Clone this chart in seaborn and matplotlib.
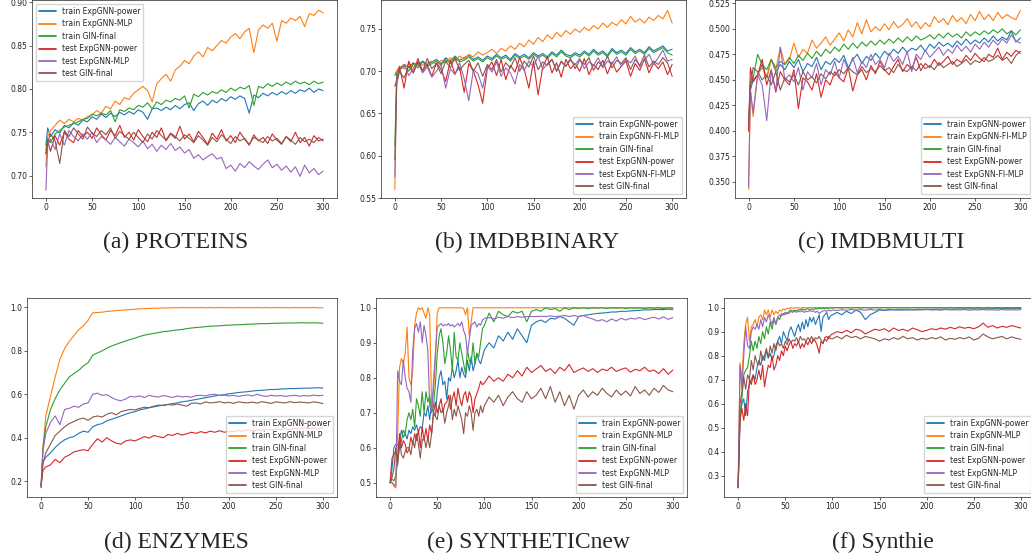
import matplotlib
matplotlib.use("Agg")
import matplotlib.pyplot as plt
import seaborn as sns

sns.set_style("ticks")
plt.rcParams["font.family"] = ["DejaVu Sans"]

# ---------------- epochs ----------------
EP_A = [0, 2] + list(range(5, 301, 5))
EP_E = list(range(0, 100, 2)) + list(range(100, 301, 5))

# ---------------- (a) PROTEINS ----------------
a_train_power = [0.735, 0.755, 0.745, 0.753, 0.749, 0.758, 0.755, 0.761, 0.758, 0.764,
                 0.762, 0.768, 0.765, 0.771, 0.767, 0.772, 0.768, 0.773, 0.770, 0.774,
                 0.771, 0.776, 0.773, 0.765, 0.777, 0.778, 0.775, 0.779, 0.776, 0.781,
                 0.777, 0.782, 0.784, 0.775, 0.783, 0.786, 0.781, 0.787, 0.784, 0.789,
                 0.786, 0.791, 0.788, 0.792, 0.789, 0.772, 0.793, 0.790, 0.795, 0.792,
                 0.796, 0.793, 0.797, 0.794, 0.798, 0.795, 0.799, 0.797, 0.801, 0.796,
                 0.800, 0.798]
a_train_mlp = [0.710, 0.745, 0.752, 0.758, 0.764, 0.760, 0.765, 0.762, 0.766, 0.764,
               0.768, 0.770, 0.775, 0.772, 0.780, 0.777, 0.786, 0.782, 0.790, 0.788,
               0.795, 0.799, 0.803, 0.798, 0.785, 0.806, 0.812, 0.817, 0.809, 0.822,
               0.826, 0.833, 0.829, 0.838, 0.843, 0.837, 0.848, 0.844, 0.850, 0.856,
               0.853, 0.860, 0.864, 0.858, 0.866, 0.870, 0.842, 0.868, 0.874, 0.870,
               0.876, 0.855, 0.879, 0.876, 0.882, 0.879, 0.884, 0.872, 0.887, 0.885,
               0.891, 0.888]
a_train_gin = [0.730, 0.742, 0.738, 0.748, 0.752, 0.756, 0.758, 0.760, 0.762, 0.765,
               0.766, 0.771, 0.769, 0.772, 0.770, 0.775, 0.762, 0.776, 0.774, 0.778,
               0.776, 0.781, 0.779, 0.784, 0.777, 0.785, 0.782, 0.787, 0.785, 0.789,
               0.787, 0.792, 0.778, 0.794, 0.791, 0.796, 0.793, 0.797, 0.795, 0.799,
               0.796, 0.801, 0.798, 0.802, 0.800, 0.804, 0.781, 0.803, 0.801, 0.806,
               0.803, 0.807, 0.804, 0.808, 0.805, 0.809, 0.806, 0.808, 0.805, 0.809,
               0.806, 0.808]
a_test_power = [0.725, 0.740, 0.728, 0.746, 0.735, 0.750, 0.742, 0.738, 0.752, 0.745,
                0.750, 0.743, 0.755, 0.747, 0.741, 0.752, 0.746, 0.758, 0.744, 0.750,
                0.741, 0.753, 0.745, 0.739, 0.750, 0.744, 0.755, 0.740, 0.748, 0.743,
                0.757, 0.742, 0.748, 0.739, 0.751, 0.744, 0.736, 0.749, 0.742, 0.753,
                0.740, 0.746, 0.738, 0.750, 0.742, 0.735, 0.747, 0.740, 0.744, 0.737,
                0.748, 0.741, 0.736, 0.745, 0.739, 0.750, 0.738, 0.744, 0.734, 0.746,
                0.740, 0.742]
a_test_mlp = [0.683, 0.735, 0.742, 0.730, 0.748, 0.735, 0.752, 0.745, 0.740, 0.748,
              0.742, 0.750, 0.738, 0.745, 0.741, 0.736, 0.744, 0.739, 0.734, 0.742,
              0.738, 0.733, 0.740, 0.731, 0.736, 0.728, 0.735, 0.730, 0.737, 0.729,
              0.733, 0.726, 0.730, 0.720, 0.724, 0.718, 0.722, 0.725, 0.719, 0.721,
              0.708, 0.712, 0.705, 0.714, 0.709, 0.716, 0.711, 0.707, 0.713, 0.718,
              0.709, 0.713, 0.706, 0.711, 0.704, 0.710, 0.699, 0.712, 0.703, 0.708,
              0.701, 0.705]
a_test_gin = [0.725, 0.738, 0.748, 0.740, 0.714, 0.752, 0.745, 0.755, 0.748, 0.742,
              0.756, 0.749, 0.745, 0.752, 0.747, 0.755, 0.743, 0.751, 0.746, 0.742,
              0.750, 0.744, 0.738, 0.748, 0.742, 0.752, 0.746, 0.741, 0.749, 0.745,
              0.740, 0.747, 0.743, 0.738, 0.746, 0.741, 0.735, 0.744, 0.739, 0.747,
              0.742, 0.737, 0.745, 0.740, 0.743, 0.736, 0.744, 0.741, 0.738, 0.745,
              0.740, 0.743, 0.737, 0.745, 0.741, 0.736, 0.744, 0.739, 0.742, 0.738,
              0.744, 0.740]

# ---------------- (b) IMDBBINARY ----------------
b_train_power = [0.695, 0.700, 0.703, 0.708, 0.705, 0.710, 0.707, 0.712, 0.708, 0.711,
                 0.714, 0.709, 0.716, 0.712, 0.718, 0.713, 0.716, 0.719, 0.714, 0.717,
                 0.713, 0.718, 0.715, 0.720, 0.716, 0.719, 0.714, 0.721, 0.717, 0.720,
                 0.716, 0.722, 0.718, 0.721, 0.717, 0.723, 0.719, 0.725, 0.720, 0.718,
                 0.722, 0.719, 0.724, 0.720, 0.726, 0.721, 0.724, 0.719, 0.727, 0.722,
                 0.725, 0.721, 0.728, 0.723, 0.726, 0.722, 0.729, 0.724, 0.727, 0.730,
                 0.724, 0.726]
b_train_mlp = [0.560, 0.700, 0.706, 0.703, 0.709, 0.705, 0.711, 0.707, 0.710, 0.712,
               0.708, 0.713, 0.710, 0.716, 0.712, 0.718, 0.714, 0.720, 0.717, 0.723,
               0.719, 0.722, 0.726, 0.721, 0.727, 0.724, 0.730, 0.726, 0.733, 0.729,
               0.737, 0.732, 0.740, 0.735, 0.743, 0.738, 0.746, 0.741, 0.748, 0.744,
               0.750, 0.746, 0.752, 0.748, 0.754, 0.750, 0.757, 0.752, 0.758, 0.754,
               0.761, 0.756, 0.765, 0.758, 0.762, 0.757, 0.764, 0.760, 0.766, 0.762,
               0.772, 0.757]
b_train_gin = [0.612, 0.698, 0.702, 0.706, 0.700, 0.709, 0.704, 0.711, 0.706, 0.709,
               0.712, 0.707, 0.714, 0.709, 0.716, 0.711, 0.713, 0.717, 0.712, 0.715,
               0.711, 0.716, 0.713, 0.718, 0.714, 0.717, 0.712, 0.719, 0.715, 0.718,
               0.714, 0.720, 0.716, 0.719, 0.715, 0.721, 0.717, 0.723, 0.718, 0.716,
               0.720, 0.717, 0.722, 0.718, 0.724, 0.719, 0.722, 0.717, 0.725, 0.720,
               0.723, 0.719, 0.726, 0.721, 0.724, 0.720, 0.727, 0.722, 0.725, 0.728,
               0.722, 0.719]
b_test_power = [0.682, 0.690, 0.705, 0.680, 0.712, 0.698, 0.715, 0.700, 0.708, 0.694,
                0.710, 0.702, 0.688, 0.713, 0.697, 0.705, 0.675, 0.709, 0.700, 0.684,
                0.662, 0.703, 0.711, 0.695, 0.714, 0.690, 0.707, 0.699, 0.716, 0.702,
                0.680, 0.712, 0.672, 0.705, 0.717, 0.698, 0.710, 0.693, 0.714, 0.703,
                0.709, 0.700, 0.715, 0.696, 0.708, 0.702, 0.713, 0.697, 0.711, 0.699,
                0.706, 0.712, 0.694, 0.709, 0.701, 0.715, 0.698, 0.710, 0.703, 0.711,
                0.696, 0.708]
b_test_mlp = [0.575, 0.690, 0.700, 0.708, 0.695, 0.703, 0.710, 0.698, 0.705, 0.693,
              0.700, 0.708, 0.680, 0.703, 0.696, 0.710, 0.691, 0.665, 0.702, 0.697,
              0.680, 0.706, 0.699, 0.711, 0.694, 0.704, 0.698, 0.685, 0.708, 0.701,
              0.712, 0.705, 0.718, 0.702, 0.709, 0.714, 0.700, 0.711, 0.706, 0.713,
              0.708, 0.715, 0.703, 0.711, 0.707, 0.716, 0.704, 0.712, 0.709, 0.717,
              0.706, 0.714, 0.710, 0.718, 0.705, 0.713, 0.720, 0.708, 0.716, 0.725,
              0.712, 0.714]
b_test_gin = [0.595, 0.685, 0.700, 0.692, 0.706, 0.698, 0.711, 0.700, 0.715, 0.703,
              0.709, 0.697, 0.712, 0.704, 0.716, 0.701, 0.708, 0.713, 0.700, 0.710,
              0.694, 0.708, 0.702, 0.714, 0.699, 0.710, 0.704, 0.716, 0.700, 0.712,
              0.705, 0.718, 0.702, 0.711, 0.707, 0.714, 0.700, 0.712, 0.706, 0.715,
              0.703, 0.713, 0.708, 0.716, 0.701, 0.711, 0.706, 0.718, 0.704, 0.713,
              0.709, 0.716, 0.702, 0.714, 0.707, 0.719, 0.705, 0.712, 0.708, 0.716,
              0.710, 0.694]

# ---------------- (c) IMDBMULTI ----------------
c_train_power = [0.400, 0.440, 0.450, 0.455, 0.465, 0.452, 0.470, 0.458, 0.465, 0.460,
                 0.468, 0.462, 0.470, 0.458, 0.466, 0.463, 0.472, 0.460, 0.468, 0.465,
                 0.471, 0.467, 0.474, 0.462, 0.470, 0.475, 0.466, 0.473, 0.469, 0.476,
                 0.471, 0.478, 0.474, 0.480, 0.476, 0.482, 0.477, 0.481, 0.479, 0.484,
                 0.478, 0.485, 0.481, 0.487, 0.483, 0.486, 0.482, 0.488, 0.484, 0.490,
                 0.485, 0.489, 0.486, 0.491, 0.487, 0.493, 0.488, 0.492, 0.489, 0.498,
                 0.487, 0.491]
c_train_mlp = [0.343, 0.440, 0.414, 0.455, 0.462, 0.452, 0.470, 0.460, 0.482, 0.465,
               0.470, 0.486, 0.472, 0.480, 0.476, 0.489, 0.481, 0.486, 0.492, 0.484,
               0.490, 0.496, 0.488, 0.499, 0.492, 0.506, 0.495, 0.509, 0.497, 0.502,
               0.498, 0.505, 0.499, 0.507, 0.501, 0.504, 0.510, 0.502, 0.507, 0.500,
               0.506, 0.502, 0.512, 0.506, 0.510, 0.504, 0.513, 0.507, 0.511, 0.505,
               0.514, 0.508, 0.517, 0.509, 0.514, 0.508, 0.516, 0.510, 0.514, 0.511,
               0.509, 0.518]
c_train_gin = [0.400, 0.445, 0.452, 0.475, 0.465, 0.460, 0.470, 0.462, 0.468, 0.465,
               0.472, 0.466, 0.474, 0.469, 0.476, 0.471, 0.478, 0.473, 0.480, 0.476,
               0.482, 0.478, 0.485, 0.480, 0.486, 0.481, 0.487, 0.483, 0.488, 0.484,
               0.489, 0.485, 0.490, 0.486, 0.491, 0.487, 0.492, 0.488, 0.493, 0.489,
               0.491, 0.494, 0.490, 0.495, 0.491, 0.496, 0.492, 0.495, 0.491, 0.497,
               0.493, 0.497, 0.494, 0.498, 0.495, 0.499, 0.496, 0.500, 0.495, 0.498,
               0.494, 0.499]
c_test_power = [0.400, 0.462, 0.448, 0.455, 0.470, 0.445, 0.460, 0.438, 0.458, 0.450,
                0.445, 0.460, 0.422, 0.452, 0.448, 0.440, 0.456, 0.433, 0.450, 0.445,
                0.458, 0.452, 0.448, 0.462, 0.439, 0.455, 0.460, 0.450, 0.464, 0.456,
                0.468, 0.460, 0.455, 0.463, 0.470, 0.458, 0.465, 0.461, 0.472, 0.459,
                0.466, 0.462, 0.470, 0.464, 0.468, 0.473, 0.465, 0.470, 0.467, 0.474,
                0.469, 0.476, 0.471, 0.468, 0.475, 0.472, 0.481, 0.470, 0.477, 0.473,
                0.479, 0.476]
c_test_mlp = [0.345, 0.440, 0.418, 0.455, 0.445, 0.410, 0.458, 0.440, 0.482, 0.450,
              0.455, 0.448, 0.462, 0.440, 0.458, 0.452, 0.466, 0.445, 0.460, 0.455,
              0.468, 0.452, 0.470, 0.460, 0.472, 0.457, 0.468, 0.462, 0.475, 0.465,
              0.470, 0.462, 0.476, 0.468, 0.473, 0.465, 0.478, 0.458, 0.475, 0.470,
              0.479, 0.472, 0.477, 0.482, 0.474, 0.480, 0.476, 0.484, 0.478, 0.483,
              0.477, 0.485, 0.480, 0.487, 0.482, 0.489, 0.484, 0.490, 0.486, 0.494,
              0.488, 0.486]
c_test_gin = [0.410, 0.445, 0.462, 0.458, 0.450, 0.455, 0.445, 0.458, 0.440, 0.452,
              0.448, 0.455, 0.445, 0.458, 0.450, 0.453, 0.447, 0.456, 0.451, 0.458,
              0.454, 0.460, 0.456, 0.462, 0.458, 0.455, 0.463, 0.457, 0.461, 0.458,
              0.464, 0.459, 0.462, 0.457, 0.465, 0.460, 0.458, 0.463, 0.459, 0.466,
              0.461, 0.464, 0.460, 0.467, 0.462, 0.465, 0.468, 0.463, 0.466, 0.470,
              0.465, 0.469, 0.467, 0.472, 0.468, 0.470, 0.474, 0.469, 0.472, 0.466,
              0.474, 0.478]

# ---------------- (d) ENZYMES ----------------
d_train_power = [0.180, 0.290, 0.310, 0.330, 0.355, 0.375, 0.390, 0.400, 0.405, 0.420,
                 0.430, 0.425, 0.450, 0.460, 0.465, 0.478, 0.485, 0.492, 0.500, 0.508,
                 0.515, 0.520, 0.528, 0.532, 0.538, 0.542, 0.546, 0.550, 0.553, 0.557,
                 0.560, 0.565, 0.568, 0.572, 0.576, 0.580, 0.584, 0.588, 0.592, 0.596,
                 0.598, 0.602, 0.605, 0.608, 0.610, 0.612, 0.615, 0.617, 0.618, 0.620,
                 0.622, 0.622, 0.624, 0.625, 0.626, 0.626, 0.627, 0.628, 0.628, 0.629,
                 0.630, 0.628]
d_train_mlp = [0.180, 0.360, 0.500, 0.590, 0.680, 0.760, 0.810, 0.843, 0.870, 0.897,
               0.915, 0.940, 0.975, 0.976, 0.978, 0.981, 0.983, 0.985, 0.987, 0.988,
               0.990, 0.991, 0.993, 0.994, 0.995, 0.996, 0.996, 0.997, 0.997, 0.998,
               0.998, 0.999, 0.998, 0.999, 0.998, 0.999, 0.998, 0.999, 0.998, 0.999,
               0.998, 0.999, 0.998, 0.999, 0.998, 0.999, 0.998, 0.999, 0.998, 0.999,
               0.998, 0.999, 0.998, 0.999, 0.998, 0.999, 0.998, 0.999, 0.998, 0.999,
               0.998, 0.998]
d_train_gin = [0.170, 0.350, 0.450, 0.530, 0.580, 0.620, 0.650, 0.680, 0.695, 0.710,
               0.730, 0.745, 0.780, 0.790, 0.800, 0.812, 0.822, 0.830, 0.838, 0.845,
               0.852, 0.858, 0.866, 0.872, 0.876, 0.880, 0.884, 0.888, 0.890, 0.893,
               0.896, 0.898, 0.902, 0.905, 0.907, 0.909, 0.911, 0.913, 0.914, 0.915,
               0.917, 0.918, 0.919, 0.920, 0.921, 0.922, 0.923, 0.924, 0.925, 0.925,
               0.926, 0.927, 0.927, 0.928, 0.928, 0.928, 0.929, 0.929, 0.928, 0.929,
               0.928, 0.927]
d_test_power = [0.180, 0.250, 0.265, 0.275, 0.300, 0.285, 0.310, 0.320, 0.335, 0.340,
                0.345, 0.340, 0.370, 0.395, 0.380, 0.400, 0.385, 0.375, 0.370, 0.385,
                0.390, 0.385, 0.395, 0.405, 0.398, 0.410, 0.405, 0.400, 0.415, 0.410,
                0.420, 0.412, 0.418, 0.425, 0.420, 0.428, 0.422, 0.430, 0.425, 0.432,
                0.425, 0.430, 0.428, 0.433, 0.430, 0.435, 0.432, 0.437, 0.434, 0.438,
                0.435, 0.440, 0.437, 0.441, 0.438, 0.443, 0.440, 0.444, 0.441, 0.445,
                0.442, 0.444]
d_test_mlp = [0.180, 0.340, 0.420, 0.470, 0.500, 0.460, 0.530, 0.535, 0.545, 0.540,
              0.555, 0.560, 0.600, 0.605, 0.595, 0.598, 0.585, 0.575, 0.570, 0.578,
              0.590, 0.588, 0.592, 0.585, 0.595, 0.590, 0.587, 0.594, 0.590, 0.585,
              0.592, 0.588, 0.590, 0.586, 0.594, 0.595, 0.592, 0.598, 0.600, 0.594,
              0.596, 0.592, 0.595, 0.590, 0.594, 0.597, 0.592, 0.600, 0.593, 0.590,
              0.595, 0.592, 0.594, 0.590, 0.593, 0.595, 0.591, 0.594, 0.592, 0.596,
              0.593, 0.595]
d_test_gin = [0.170, 0.280, 0.330, 0.370, 0.410, 0.430, 0.450, 0.465, 0.475, 0.485,
              0.490, 0.480, 0.495, 0.500, 0.495, 0.508, 0.515, 0.505, 0.520, 0.525,
              0.530, 0.528, 0.535, 0.540, 0.538, 0.545, 0.550, 0.548, 0.553, 0.550,
              0.555, 0.550, 0.545, 0.558, 0.560, 0.555, 0.565, 0.560, 0.562, 0.566,
              0.560, 0.563, 0.558, 0.565, 0.562, 0.560, 0.564, 0.559, 0.566, 0.562,
              0.558, 0.565, 0.562, 0.560, 0.566, 0.561, 0.564, 0.562, 0.560, 0.565,
              0.562, 0.557]

# ---------------- (e) SYNTHETICnew ----------------
e_train_power = [0.500, 0.540, 0.600, 0.610, 0.605, 0.620, 0.650, 0.630, 0.640, 0.625,
                 0.650, 0.640, 0.660, 0.650, 0.665, 0.645, 0.660, 0.655, 0.700, 0.690,
                 0.720, 0.680, 0.730, 0.700, 0.690, 0.760, 0.800, 0.820, 0.780, 0.790,
                 0.740, 0.800, 0.790, 0.830, 0.800, 0.820, 0.850, 0.800, 0.830, 0.810,
                 0.800, 0.850, 0.820, 0.860, 0.820, 0.840, 0.870, 0.850, 0.840, 0.860,
                 0.880, 0.900, 0.885, 0.920, 0.905, 0.930, 0.910, 0.940, 0.920, 0.900,
                 0.950, 0.960, 0.965, 0.958, 0.970, 0.968, 0.975, 0.970, 0.960, 0.950,
                 0.975, 0.978, 0.980, 0.982, 0.984, 0.985, 0.986, 0.988, 0.988, 0.990,
                 0.990, 0.991, 0.992, 0.993, 0.994, 0.994, 0.995, 0.995, 0.995, 0.996,
                 0.995]
e_train_mlp = [0.500, 0.500, 0.490, 0.485, 0.640, 0.830, 0.855, 0.840, 0.870, 0.945,
               0.800, 0.780, 0.820, 0.950, 0.985, 1.000, 0.995, 1.000, 0.985, 0.970,
               1.000, 0.980, 0.720, 0.760, 0.850, 0.985, 1.000, 1.000, 1.000, 1.000,
               1.000, 1.000, 1.000, 1.000, 1.000, 1.000, 1.000, 1.000, 1.000, 0.998,
               0.980, 1.000, 0.920, 0.960, 1.000, 1.000, 1.000, 1.000, 1.000, 1.000,
               1.000, 1.000, 1.000, 1.000, 1.000, 1.000, 1.000, 1.000, 1.000, 1.000,
               1.000, 1.000, 1.000, 1.000, 1.000, 1.000, 1.000, 1.000, 1.000, 1.000,
               1.000, 1.000, 1.000, 1.000, 1.000, 1.000, 1.000, 1.000, 1.000, 1.000,
               1.000, 1.000, 1.000, 1.000, 1.000, 1.000, 1.000, 1.000, 1.000, 1.000,
               1.000]
e_train_gin = [0.500, 0.510, 0.505, 0.520, 0.560, 0.600, 0.620, 0.650, 0.640, 0.680,
               0.700, 0.680, 0.710, 0.660, 0.740, 0.720, 0.690, 0.760, 0.700, 0.760,
               0.730, 0.750, 0.700, 0.720, 0.780, 0.870, 0.920, 0.940, 0.900, 0.840,
               0.870, 0.920, 0.880, 0.820, 0.930, 0.860, 0.850, 0.900, 0.870, 0.840,
               0.810, 0.880, 0.850, 0.840, 0.900, 0.840, 0.870, 0.860, 0.900, 0.940,
               0.950, 0.985, 0.960, 0.990, 0.980, 0.975, 0.990, 0.985, 0.990, 0.960,
               0.990, 0.995, 0.990, 1.000, 0.995, 0.998, 0.990, 1.000, 0.995, 1.000,
               0.998, 1.000, 0.998, 1.000, 0.999, 1.000, 0.998, 1.000, 0.999, 1.000,
               0.998, 1.000, 0.999, 1.000, 0.998, 1.000, 0.999, 1.000, 0.998, 1.000,
               0.999]
e_test_power = [0.500, 0.570, 0.580, 0.590, 0.570, 0.640, 0.600, 0.620, 0.610, 0.585,
                0.595, 0.630, 0.610, 0.640, 0.620, 0.650, 0.600, 0.660, 0.620, 0.655,
                0.620, 0.665, 0.640, 0.700, 0.730, 0.700, 0.720, 0.740, 0.700, 0.725,
                0.730, 0.750, 0.710, 0.740, 0.760, 0.720, 0.770, 0.740, 0.720, 0.750,
                0.760, 0.730, 0.760, 0.745, 0.700, 0.740, 0.755, 0.770, 0.790, 0.780,
                0.785, 0.805, 0.790, 0.800, 0.790, 0.810, 0.800, 0.820, 0.805, 0.830,
                0.815, 0.825, 0.835, 0.818, 0.826, 0.812, 0.830, 0.820, 0.838, 0.815,
                0.822, 0.828, 0.818, 0.826, 0.815, 0.825, 0.820, 0.830, 0.818, 0.824,
                0.828, 0.816, 0.824, 0.820, 0.830, 0.818, 0.822, 0.812, 0.826, 0.810,
                0.822]
e_test_mlp = [0.500, 0.500, 0.495, 0.490, 0.820, 0.790, 0.780, 0.850, 0.800, 0.770,
              0.760, 0.730, 0.880, 0.940, 0.955, 0.930, 0.960, 0.900, 0.950, 0.920,
              0.880, 0.720, 0.700, 0.790, 0.870, 0.945, 0.950, 0.955, 0.948, 0.952,
              0.950, 0.955, 0.948, 0.952, 0.945, 0.950, 0.955, 0.948, 0.960, 0.935,
              0.920, 0.870, 0.910, 0.950, 0.955, 0.960, 0.945, 0.955, 0.950, 0.965,
              0.970, 0.972, 0.968, 0.973, 0.970, 0.975, 0.972, 0.975, 0.973, 0.975,
              0.975, 0.975, 0.976, 0.975, 0.977, 0.975, 0.976, 0.978, 0.975, 0.978,
              0.975, 0.978, 0.972, 0.968, 0.962, 0.966, 0.960, 0.968, 0.962, 0.970,
              0.965, 0.970, 0.968, 0.972, 0.966, 0.970, 0.973, 0.968, 0.974, 0.967,
              0.972]
e_test_gin = [0.500, 0.515, 0.540, 0.600, 0.550, 0.620, 0.580, 0.570, 0.590, 0.600,
              0.600, 0.580, 0.620, 0.600, 0.640, 0.610, 0.570, 0.620, 0.630, 0.600,
              0.630, 0.600, 0.640, 0.700, 0.690, 0.680, 0.720, 0.700, 0.710, 0.670,
              0.700, 0.720, 0.750, 0.680, 0.710, 0.690, 0.720, 0.700, 0.680, 0.640,
              0.700, 0.690, 0.720, 0.700, 0.650, 0.700, 0.710, 0.690, 0.720, 0.700,
              0.720, 0.745, 0.730, 0.750, 0.720, 0.745, 0.760, 0.740, 0.730, 0.760,
              0.740, 0.750, 0.770, 0.740, 0.775, 0.730, 0.760, 0.720, 0.750, 0.710,
              0.750, 0.765, 0.745, 0.760, 0.750, 0.770, 0.755, 0.745, 0.765, 0.750,
              0.762, 0.748, 0.775, 0.755, 0.765, 0.750, 0.770, 0.758, 0.778, 0.765,
              0.760]

# ---------------- (f) Synthie ----------------
f_train_power = [0.250, 0.550, 0.600, 0.620, 0.550, 0.650, 0.680, 0.700, 0.720, 0.700,
                 0.750, 0.780, 0.760, 0.800, 0.780, 0.820, 0.790, 0.810, 0.780, 0.800,
                 0.840, 0.860, 0.880, 0.850, 0.900, 0.880, 0.860, 0.900, 0.920, 0.900,
                 0.880, 0.910, 0.930, 0.900, 0.940, 0.910, 0.950, 0.920, 0.960, 0.940,
                 0.960, 0.930, 0.950, 0.970, 0.900, 0.960, 0.970, 0.980, 0.950, 0.965,
                 0.970, 0.980, 0.970, 0.985, 0.975, 0.990, 0.980, 0.950, 0.970, 0.980,
                 0.990, 0.988, 0.990, 0.992, 0.990, 0.993, 0.990, 0.992, 0.991, 0.993,
                 0.992, 0.993, 0.992, 0.994, 0.993, 0.994, 0.993, 0.995, 0.994, 0.995,
                 0.994, 0.995, 0.994, 0.995, 0.995, 0.996, 0.995, 0.996, 0.995, 0.996,
                 0.996]
f_train_mlp = [0.250, 0.770, 0.700, 0.850, 0.930, 0.960, 0.860, 0.920, 0.930, 0.950,
               0.920, 0.960, 0.970, 0.950, 0.990, 0.970, 0.990, 0.960, 0.990, 0.970,
               0.985, 0.975, 0.990, 0.985, 0.995, 0.990, 0.998, 0.995, 1.000, 0.997,
               1.000, 0.998, 1.000, 0.997, 1.000, 1.000, 0.998, 1.000, 1.000, 0.999,
               1.000, 1.000, 1.000, 1.000, 1.000, 1.000, 1.000, 1.000, 1.000, 1.000,
               1.000, 1.000, 1.000, 1.000, 1.000, 1.000, 1.000, 1.000, 1.000, 1.000,
               1.000, 1.000, 1.000, 1.000, 1.000, 1.000, 1.000, 1.000, 1.000, 1.000,
               1.000, 1.000, 1.000, 1.000, 1.000, 1.000, 1.000, 1.000, 1.000, 1.000,
               1.000, 1.000, 1.000, 1.000, 1.000, 1.000, 1.000, 1.000, 1.000, 1.000,
               1.000]
f_train_gin = [0.250, 0.550, 0.620, 0.720, 0.740, 0.750, 0.800, 0.860, 0.820, 0.860,
               0.830, 0.880, 0.850, 0.900, 0.870, 0.920, 0.890, 0.940, 0.910, 0.950,
               0.930, 0.960, 0.950, 0.975, 0.970, 0.980, 0.975, 0.985, 0.990, 0.985,
               0.990, 0.985, 0.992, 0.990, 0.995, 0.990, 0.993, 0.996, 0.990, 0.995,
               0.992, 0.996, 0.994, 0.997, 0.995, 0.998, 0.996, 0.998, 0.997, 0.999,
               0.998, 1.000, 0.998, 1.000, 0.998, 1.000, 0.998, 1.000, 0.998, 1.000,
               0.998, 1.000, 0.998, 1.000, 0.998, 1.000, 0.998, 1.000, 0.998, 1.000,
               0.998, 1.000, 0.998, 1.000, 0.998, 1.000, 0.998, 1.000, 0.998, 1.000,
               0.998, 1.000, 0.998, 1.000, 0.998, 1.000, 0.998, 1.000, 0.998, 1.000,
               0.999]
f_test_power = [0.250, 0.530, 0.580, 0.530, 0.600, 0.550, 0.700, 0.680, 0.720, 0.680,
                0.700, 0.740, 0.700, 0.760, 0.670, 0.720, 0.760, 0.750, 0.800, 0.740,
                0.760, 0.800, 0.780, 0.820, 0.800, 0.840, 0.820, 0.845, 0.860, 0.830,
                0.850, 0.840, 0.860, 0.830, 0.850, 0.835, 0.860, 0.845, 0.865, 0.850,
                0.870, 0.860, 0.840, 0.810, 0.860, 0.850, 0.875, 0.880, 0.870, 0.885,
                0.890, 0.900, 0.895, 0.905, 0.895, 0.910, 0.905, 0.890, 0.900, 0.910,
                0.905, 0.912, 0.900, 0.915, 0.905, 0.910, 0.902, 0.915, 0.908, 0.900,
                0.905, 0.912, 0.908, 0.915, 0.910, 0.918, 0.912, 0.920, 0.914, 0.918,
                0.912, 0.920, 0.935, 0.918, 0.925, 0.915, 0.922, 0.918, 0.925, 0.920,
                0.915]
f_test_mlp = [0.250, 0.760, 0.660, 0.800, 0.920, 0.840, 0.830, 0.900, 0.920, 0.910,
              0.930, 0.910, 0.950, 0.920, 0.960, 0.940, 0.970, 0.950, 0.930, 0.960,
              0.930, 0.960, 0.970, 0.965, 0.975, 0.970, 0.980, 0.975, 0.985, 0.980,
              0.985, 0.980, 0.986, 0.982, 0.988, 0.980, 0.985, 0.983, 0.988, 0.984,
              0.986, 0.980, 0.985, 0.975, 0.982, 0.986, 0.988, 0.984, 0.990, 0.986,
              0.990, 0.988, 0.991, 0.989, 0.992, 0.990, 0.991, 0.989, 0.992, 0.990,
              0.991, 0.990, 0.992, 0.990, 0.991, 0.989, 0.992, 0.990, 0.991, 0.990,
              0.992, 0.990, 0.991, 0.989, 0.992, 0.990, 0.991, 0.990, 0.992, 0.989,
              0.991, 0.990, 0.992, 0.990, 0.991, 0.989, 0.992, 0.990, 0.991, 0.990,
              0.991]
f_test_gin = [0.250, 0.600, 0.650, 0.710, 0.660, 0.720, 0.700, 0.780, 0.740, 0.800,
              0.770, 0.760, 0.820, 0.780, 0.800, 0.830, 0.790, 0.840, 0.810, 0.850,
              0.820, 0.860, 0.840, 0.850, 0.830, 0.860, 0.845, 0.870, 0.855, 0.865,
              0.860, 0.875, 0.855, 0.880, 0.865, 0.870, 0.860, 0.875, 0.865, 0.880,
              0.860, 0.875, 0.870, 0.880, 0.865, 0.850, 0.870, 0.860, 0.880, 0.870,
              0.870, 0.880, 0.870, 0.885, 0.875, 0.880, 0.870, 0.880, 0.875, 0.870,
              0.860, 0.870, 0.865, 0.875, 0.868, 0.880, 0.870, 0.875, 0.865, 0.872,
              0.868, 0.875, 0.870, 0.878, 0.865, 0.872, 0.868, 0.875, 0.870, 0.878,
              0.865, 0.872, 0.890, 0.878, 0.870, 0.875, 0.880, 0.870, 0.878, 0.872,
              0.868]

LABELS_MLP = ["train ExpGNN-power", "train ExpGNN-MLP", "train GIN-final",
              "test ExpGNN-power", "test ExpGNN-MLP", "test GIN-final"]
LABELS_FI = ["train ExpGNN-power", "train ExpGNN-FI-MLP", "train GIN-final",
             "test ExpGNN-power", "test ExpGNN-FI-MLP", "test GIN-final"]
CAPTIONS = ["(a) PROTEINS", "(b) IMDBBINARY", "(c) IMDBMULTI",
            "(d) ENZYMES", "(e) SYNTHETICnew", "(f) Synthie"]

panels = [
    dict(x=EP_A, ys=[a_train_power, a_train_mlp, a_train_gin, a_test_power, a_test_mlp, a_test_gin],
         labels=LABELS_MLP, loc="upper left", box=(32, 337, 0, 198), ylim=(0.674, 0.9028),
         yticks=[0.70, 0.75, 0.80, 0.85, 0.90], fmt="{:.2f}"),
    dict(x=EP_A, ys=[b_train_power, b_train_mlp, b_train_gin, b_test_power, b_test_mlp, b_test_gin],
         labels=LABELS_FI, loc="lower right", box=(381, 686, 0, 198), ylim=(0.55, 0.7843),
         yticks=[0.55, 0.60, 0.65, 0.70, 0.75], fmt="{:.2f}"),
    dict(x=EP_A, ys=[c_train_power, c_train_mlp, c_train_gin, c_test_power, c_test_mlp, c_test_gin],
         labels=LABELS_FI, loc="lower right", box=(735, 1034, 0, 198), ylim=(0.3343, 0.5282),
         yticks=[0.350, 0.375, 0.400, 0.425, 0.450, 0.475, 0.500, 0.525], fmt="{:.3f}"),
    dict(x=EP_A, ys=[d_train_power, d_train_mlp, d_train_gin, d_test_power, d_test_mlp, d_test_gin],
         labels=LABELS_MLP, loc="lower right", box=(27, 337, 298, 497), ylim=(0.127, 1.043),
         yticks=[0.2, 0.4, 0.6, 0.8, 1.0], fmt="{:.1f}"),
    dict(x=EP_E, ys=[e_train_power, e_train_mlp, e_train_gin, e_test_power, e_test_mlp, e_test_gin],
         labels=LABELS_MLP, loc="lower right", box=(376, 687, 298, 497), ylim=(0.459, 1.028),
         yticks=[0.5, 0.6, 0.7, 0.8, 0.9, 1.0], fmt="{:.1f}"),
    dict(x=EP_E, ys=[f_train_power, f_train_mlp, f_train_gin, f_test_power, f_test_mlp, f_test_gin],
         labels=LABELS_MLP, loc="lower right", box=(724, 1035, 298, 497), ylim=(0.211, 1.040),
         yticks=[0.3, 0.4, 0.5, 0.6, 0.7, 0.8, 0.9, 1.0], fmt="{:.1f}"),
]

W, H = 1031, 560
FS = 5.5
colors = sns.color_palette("tab10")[:6]

fig = plt.figure(figsize=(W / 100, H / 100), dpi=100)
fig.patch.set_facecolor("white")

for i, p in enumerate(panels):
    l, r, t, b = p["box"]
    ax = fig.add_axes([l / W, 1 - b / H, (r - l) / W, (b - t) / H])
    for ys, lab, col in zip(p["ys"], p["labels"], colors):
        sns.lineplot(x=p["x"], y=ys, ax=ax, color=col, linewidth=0.8, label=lab)
    ax.set_xlim(-15, 315)
    ax.set_ylim(*p["ylim"])
    ax.set_xticks([0, 50, 100, 150, 200, 250, 300])
    ax.set_yticks(p["yticks"])
    ax.set_yticklabels([p["fmt"].format(v) for v in p["yticks"]])
    ax.tick_params(labelsize=FS, length=2, width=0.5, pad=1.5, colors="#222222")
    for s in ax.spines.values():
        s.set_linewidth(0.5)
        s.set_color("#222222")
    ax.set_xlabel("")
    ax.set_ylabel("")
    leg = ax.legend(loc=p["loc"], fontsize=FS, frameon=True, fancybox=True,
                    framealpha=0.8, edgecolor="#cccccc", handlelength=2.2,
                    borderpad=0.4, labelspacing=0.45)
    for ln in leg.get_lines():
        ln.set_linewidth(1.3)
    ax.set_facecolor("white")

cap_pos = [(176, 248.5), (527, 248.5), (881, 248.5), (176, 548), (528, 548), (883, 548)]
for cap, (cx, cy) in zip(CAPTIONS, cap_pos):
    fig.text(cx / W, 1 - cy / H, cap, ha="center", va="baseline",
             fontsize=17, family="Liberation Serif")

fig.savefig("out.png", dpi=100, facecolor="white")
